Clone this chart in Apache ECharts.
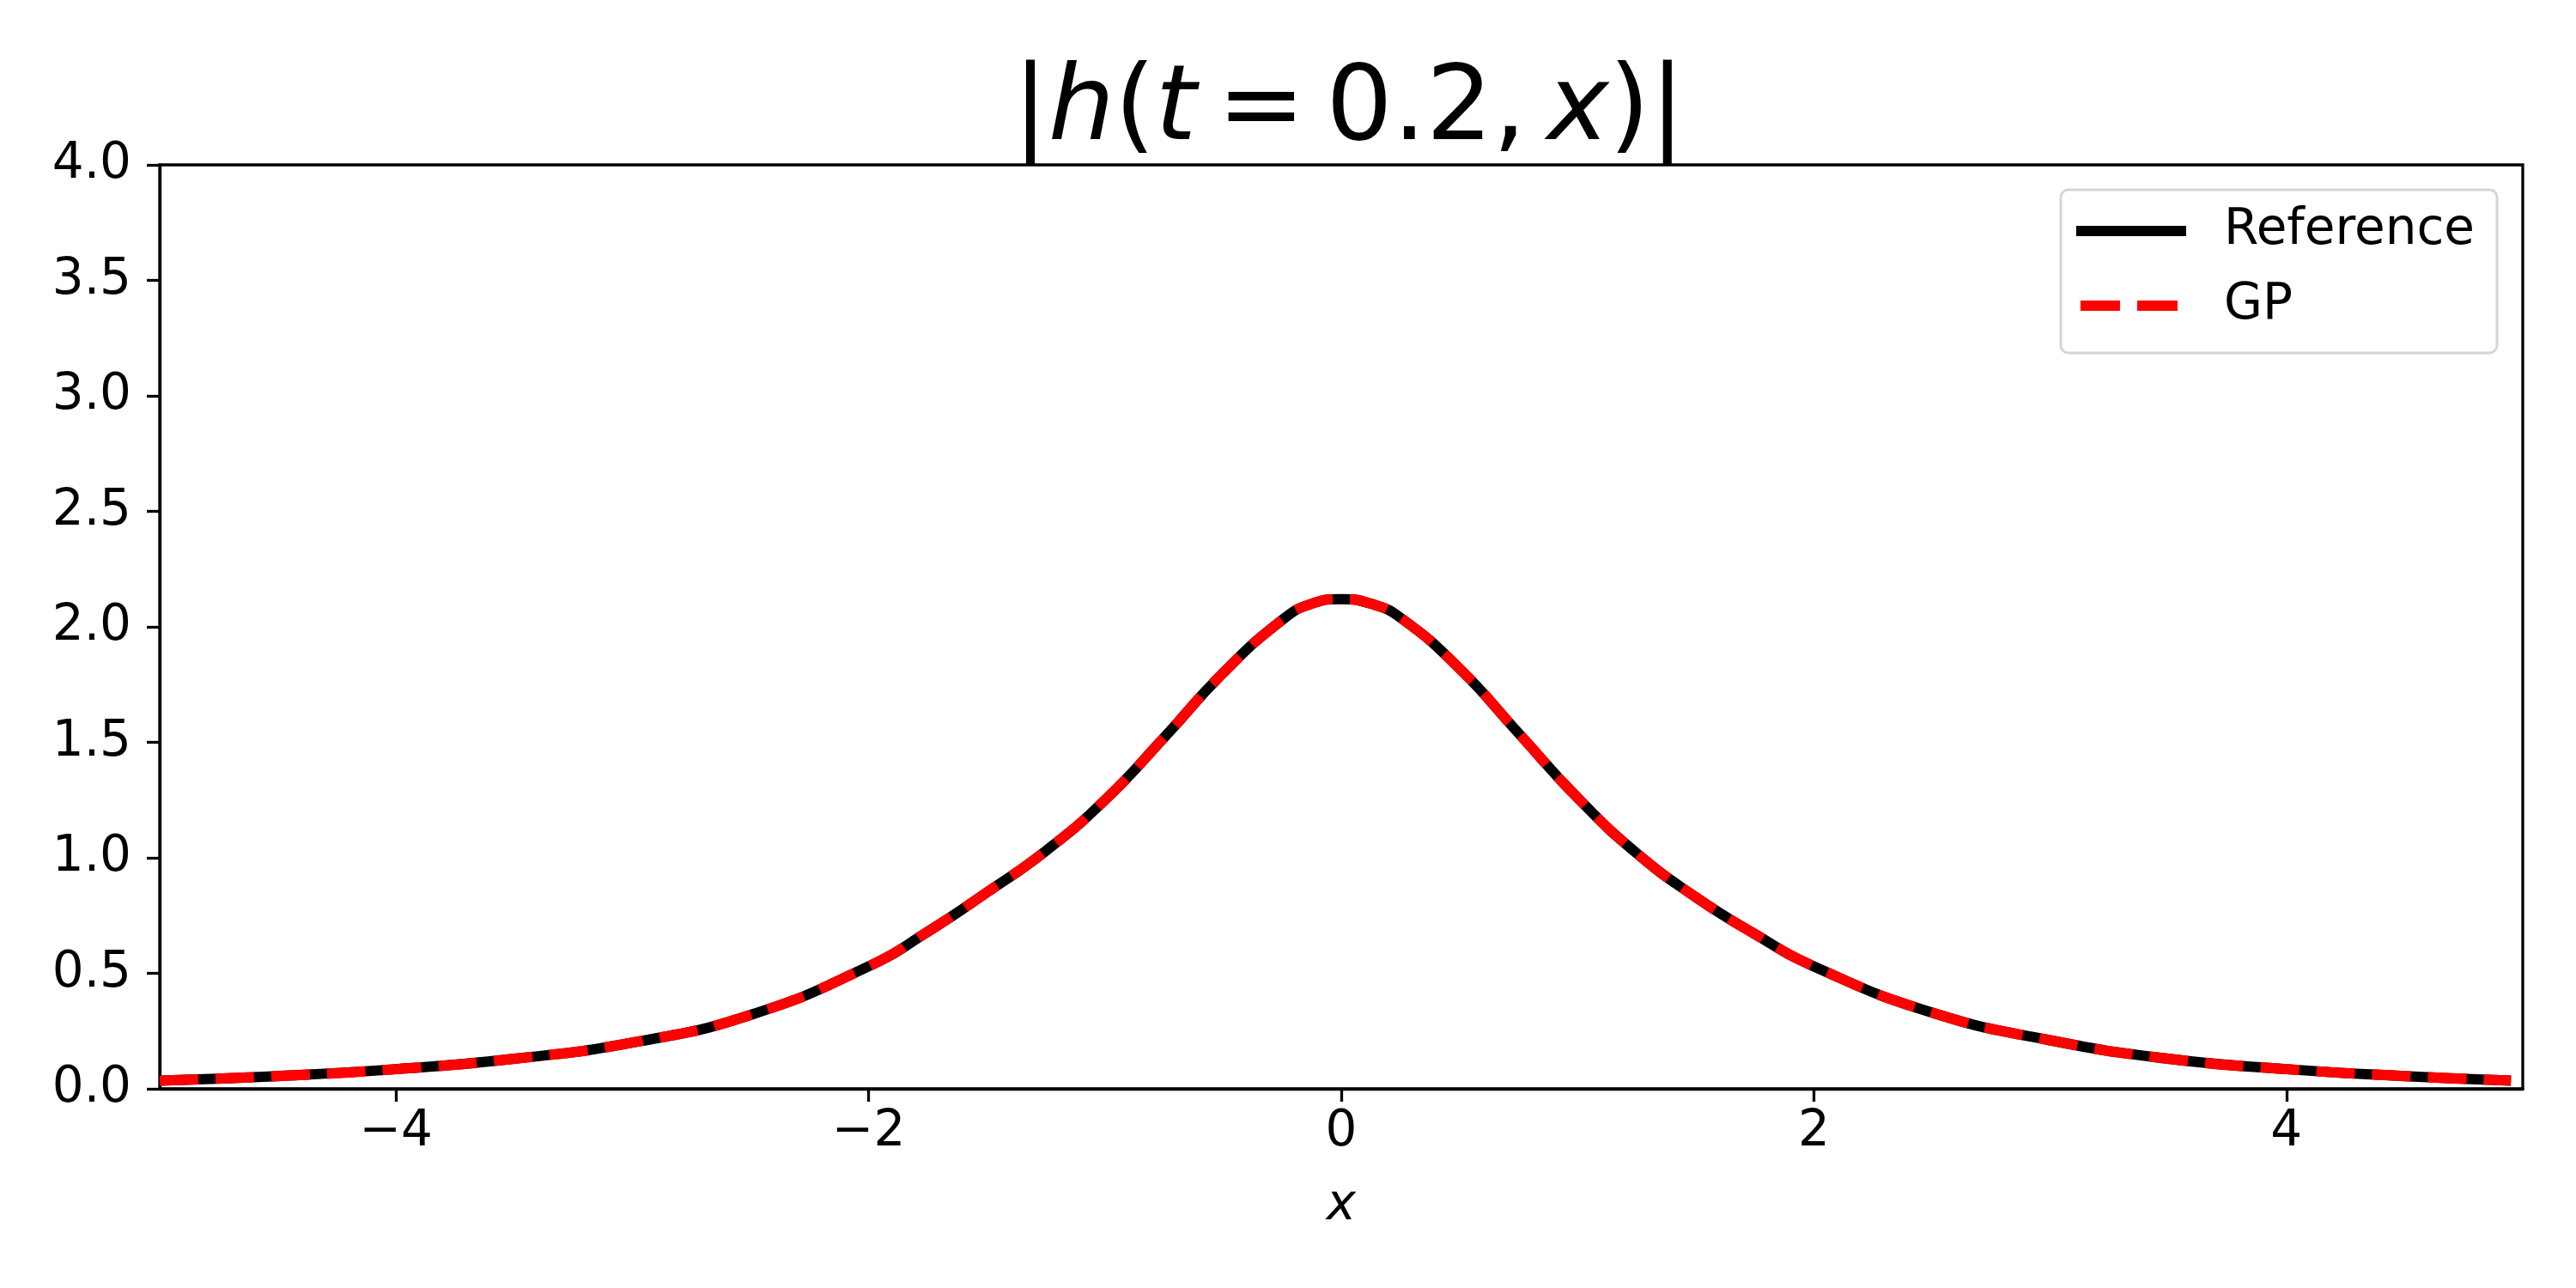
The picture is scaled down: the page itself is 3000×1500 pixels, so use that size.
<!DOCTYPE html>
<html>
<head>
<meta charset="utf-8">
<title>|h(t=0.2, x)|</title>
<script src="https://cdn.jsdelivr.net/npm/echarts@6/dist/echarts.min.js"></script>
<style>
  html, body { margin: 0; padding: 0; background: #fff; }
  #chart { width: 3000px; height: 1500px; }
</style>
</head>
<body>
<div id="chart"></div>
<script>
// x positions
var xs = [-5, -4.5, -4, -3.5, -3, -2.5, -2, -1.75, -1.5, -1.25, -1, -0.75, -0.5, -0.25, -0.125,
  0, 0.125, 0.25, 0.5, 0.75, 1, 1.25, 1.5, 1.75, 2, 2.5, 3, 3.5, 4, 4.5, 4.95];
// |h| reference solution
var refVals = [0.035, 0.055, 0.085, 0.13, 0.2, 0.32, 0.53, 0.68, 0.85, 1.03, 1.25, 1.52, 1.80, 2.03, 2.10,
  2.12, 2.10, 2.04, 1.82, 1.54, 1.26, 1.02, 0.83, 0.67, 0.53, 0.33, 0.21, 0.13, 0.085, 0.055, 0.035];
// |h| GP prediction (sits on top of the reference)
var gpVals = [0.035, 0.055, 0.085, 0.13, 0.2, 0.32, 0.53, 0.68, 0.85, 1.03, 1.25, 1.52, 1.80, 2.03, 2.10,
  2.12, 2.10, 2.04, 1.82, 1.54, 1.26, 1.02, 0.83, 0.67, 0.53, 0.33, 0.21, 0.13, 0.085, 0.055, 0.035];
var xTicks = [-4, -2, 0, 2, 4];

function pairs(x, y){
  return x.map(function(v, i){ return [v, y[i]]; });
}

var font = 'DejaVu Sans';
// legend icons: solid bar / two dashes (corner dots keep the box 128 wide)
var solidIcon = 'path://M0,0H128V12H0Z';
var dashIcon = 'path://M0,0L0,0.01Z M128,12L128,11.99Z M5,0H51V12H5Z M71,0H118V12H71Z';

var chart = echarts.init(document.getElementById('chart'));
chart.setOption({
  animation: false,
  backgroundColor: '#fff',
  title: {
    text: '{n||}{i|h}{n|(}{i|t}{n|\u2009=\u20090.2,\u2009}{i|x}{n|)|}',
    left: 1566,
    textAlign: 'center',
    top: 63,
    textStyle: {
      rich: {
        n: { fontFamily: font, fontSize: 122, fontWeight: 'normal', color: '#000', lineHeight: 125 },
        i: { fontFamily: font, fontSize: 122, fontWeight: 'normal', fontStyle: 'italic', color: '#000', lineHeight: 125 }
      }
    }
  },
  grid: {
    left: 186, right: 62, top: 192, bottom: 232,
    show: true, borderColor: '#000', borderWidth: 3.3, backgroundColor: 'transparent'
  },
  legend: {
    right: 92,
    top: 221,
    orient: 'vertical',
    itemWidth: 128,
    itemHeight: 12,
    itemGap: 27,
    padding: [18, 26, 25, 18],
    backgroundColor: '#fff',
    borderColor: '#d6d6d6',
    borderWidth: 3,
    borderRadius: 9,
    itemStyle: { borderWidth: 0 },
    textStyle: { fontFamily: font, fontSize: 58, color: '#000', lineHeight: 60, padding: [0, 0, 0, 39] },
    data: [
      { name: 'Reference', icon: solidIcon },
      { name: 'GP', icon: dashIcon }
    ]
  },
  xAxis: {
    type: 'value',
    min: -5,
    max: 5,
    name: 'x',
    nameLocation: 'middle',
    nameGap: 108,
    nameTextStyle: { fontFamily: font, fontSize: 58, fontStyle: 'italic', color: '#000' },
    splitLine: { show: false },
    axisLine: { show: true, onZero: false, lineStyle: { color: '#000', width: 3.3 } },
    axisTick: { show: true, length: 15, lineStyle: { color: '#000', width: 3.3 }, customValues: xTicks },
    axisLabel: {
      fontFamily: font, fontSize: 58, color: '#000', margin: 22,
      customValues: xTicks,
      formatter: function(v){ return String(v).replace('-', '\u2212'); }
    }
  },
  yAxis: {
    type: 'value',
    min: 0,
    max: 4,
    interval: 0.5,
    splitLine: { show: false },
    axisLine: { show: true, onZero: false, lineStyle: { color: '#000', width: 3.3 } },
    axisTick: { show: true, length: 15, lineStyle: { color: '#000', width: 3.3 } },
    axisLabel: {
      fontFamily: font, fontSize: 58, color: '#000', margin: 33,
      formatter: function(v){ return v.toFixed(1); }
    }
  },
  series: [
    {
      name: 'Reference',
      type: 'line',
      data: pairs(xs, refVals),
      smooth: true,
      symbol: 'none',
      color: '#000',
      lineStyle: { color: '#000', width: 12, cap: 'butt' }
    },
    {
      name: 'GP',
      type: 'line',
      data: pairs(xs, gpVals),
      smooth: true,
      symbol: 'none',
      color: '#ff0000',
      lineStyle: { color: '#ff0000', width: 12, type: [45, 20], cap: 'butt' }
    }
  ]
});
</script>
</body>
</html>
